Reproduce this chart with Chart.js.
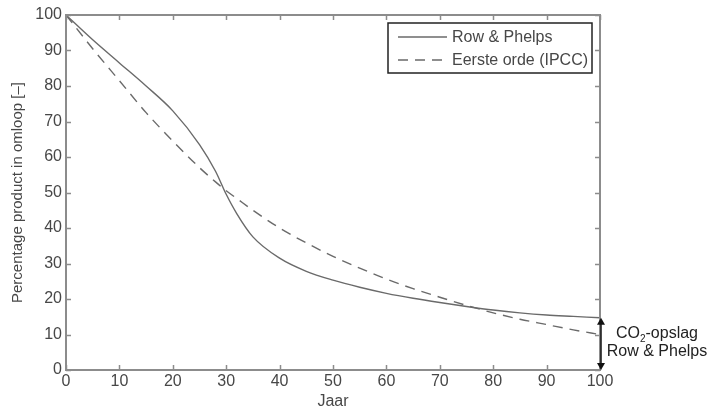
<!DOCTYPE html>
<html>
<head>
<meta charset="utf-8">
<script src="https://cdn.jsdelivr.net/npm/chart.js@4.4.1/dist/chart.umd.min.js"></script>
<style>
  html, body { margin: 0; padding: 0; background: #fff; }
  #wrap { width: 707px; height: 411px; position: relative; }
</style>
</head>
<body>
<div id="wrap"><canvas id="chart" width="707" height="411"></canvas></div>
<script>
const years = [0, 5, 10, 15, 20, 25, 28, 30, 32, 35, 40, 45, 50, 55, 60, 65, 70, 75, 80, 85, 90, 95, 100];
const rowPhelps = [100, 93, 86.5, 80, 73, 63.5, 56, 49.5, 44, 37.5, 31.5, 27.8, 25.3, 23.3, 21.6, 20.2, 19, 17.9, 16.9, 16.1, 15.5, 15.1, 14.7];
const eersteOrde = [100, 90.5, 81.5, 72.5, 64.5, 57, 53, 50.5, 48.3, 45, 40, 35.8, 32, 28.7, 25.6, 22.9, 20.5, 18.2, 16.1, 14.3, 12.8, 11.3, 10];
const xTicks = [0, 10, 20, 30, 40, 50, 60, 70, 80, 90, 100];
const yTicks = [0, 10, 20, 30, 40, 50, 60, 70, 80, 90, 100];
const seriesNames = ['Row & Phelps', 'Eerste orde (IPCC)'];
const annotationLines = ['CO', '-opslag', 'Row & Phelps'];

const FONT = '"Liberation Sans", Arial, sans-serif';
const LINE = '#6a6a6a';
const AXIS = '#8c8c8c';
const TEXT = '#474747';

const framePlugin = {
  id: 'frame',
  afterDatasetsDraw(chart) {
    const { ctx, chartArea: a, scales } = chart;
    const x = scales.x, y = scales.y;
    ctx.save();
    // box
    ctx.strokeStyle = AXIS;
    ctx.lineWidth = 2;
    ctx.strokeRect(a.left, a.top, a.right - a.left, a.bottom - a.top);
    // inward ticks on all four sides
    ctx.lineWidth = 1.5;
    ctx.beginPath();
    xTicks.forEach((v) => {
      const px = Math.round(x.getPixelForValue(v)) + 0.5;
      ctx.moveTo(px, a.bottom); ctx.lineTo(px, a.bottom - 5);
      ctx.moveTo(px, a.top); ctx.lineTo(px, a.top + 5);
    });
    yTicks.forEach((v) => {
      const py = Math.round(y.getPixelForValue(v)) + 0.5;
      ctx.moveTo(a.left, py); ctx.lineTo(a.left + 5, py);
      ctx.moveTo(a.right, py); ctx.lineTo(a.right - 5, py);
    });
    ctx.stroke();

    // legend box
    const lx = 388, ly = 23, lw = 204, lh = 50;
    ctx.fillStyle = '#fff';
    ctx.fillRect(lx, ly, lw, lh);
    ctx.strokeStyle = '#222';
    ctx.lineWidth = 1.5;
    ctx.strokeRect(lx, ly, lw, lh);
    chart.data.datasets.forEach((ds, i) => {
      const yy = ly + 14 + i * 23;
      ctx.strokeStyle = ds.borderColor;
      ctx.lineWidth = ds.borderWidth;
      ctx.setLineDash(ds.borderDash || []);
      ctx.beginPath();
      ctx.moveTo(lx + 10, yy); ctx.lineTo(lx + 59, yy);
      ctx.stroke();
      ctx.setLineDash([]);
      ctx.fillStyle = TEXT;
      ctx.font = '16px ' + FONT;
      ctx.textBaseline = 'middle';
      ctx.textAlign = 'left';
      ctx.fillText(ds.label, lx + 64, yy + 1);
    });

    // double arrow at x = 100 from Row & Phelps end value to 0
    const ax = x.getPixelForValue(100) + 1;
    const yTop = y.getPixelForValue(rowPhelps[rowPhelps.length - 1]);
    const yBot = y.getPixelForValue(0);
    ctx.strokeStyle = '#111';
    ctx.fillStyle = '#111';
    ctx.lineWidth = 1.5;
    ctx.beginPath();
    ctx.moveTo(ax, yTop + 5); ctx.lineTo(ax, yBot - 5);
    ctx.stroke();
    ctx.beginPath();
    ctx.moveTo(ax, yTop); ctx.lineTo(ax - 4, yTop + 7); ctx.lineTo(ax + 4, yTop + 7); ctx.closePath();
    ctx.fill();
    ctx.beginPath();
    ctx.moveTo(ax, yBot); ctx.lineTo(ax - 4, yBot - 7); ctx.lineTo(ax + 4, yBot - 7); ctx.closePath();
    ctx.fill();

    // annotation text
    const cx = 657;
    ctx.fillStyle = '#222';
    ctx.textBaseline = 'alphabetic';
    ctx.font = '16px ' + FONT;
    const w1 = ctx.measureText(annotationLines[0]).width;
    ctx.font = '10px ' + FONT;
    const ws = ctx.measureText('2').width;
    ctx.font = '16px ' + FONT;
    const w2 = ctx.measureText(annotationLines[1]).width;
    const sx = cx - (w1 + ws + w2) / 2;
    ctx.textAlign = 'left';
    ctx.fillText(annotationLines[0], sx, 338);
    ctx.font = '10px ' + FONT;
    ctx.fillText('2', sx + w1, 342);
    ctx.font = '16px ' + FONT;
    ctx.fillText(annotationLines[1], sx + w1 + ws, 338);
    ctx.textAlign = 'center';
    ctx.fillText(annotationLines[2], cx, 356);
    ctx.restore();
  }
};

new Chart(document.getElementById('chart'), {
  type: 'line',
  data: {
    datasets: [
      {
        label: seriesNames[0],
        data: years.map((v, i) => ({ x: v, y: rowPhelps[i] })),
        borderColor: LINE,
        borderWidth: 1.4,
        pointRadius: 0,
        cubicInterpolationMode: 'monotone',
        fill: false
      },
      {
        label: seriesNames[1],
        data: years.map((v, i) => ({ x: v, y: eersteOrde[i] })),
        borderColor: LINE,
        borderWidth: 1.4,
        borderDash: [10, 7],
        pointRadius: 0,
        cubicInterpolationMode: 'monotone',
        fill: false
      }
    ]
  },
  options: {
    responsive: false,
    animation: false,
    devicePixelRatio: 1,
    layout: { padding: { left: 0, right: 107, top: 15, bottom: 0 } },
    plugins: { legend: { display: false }, tooltip: { enabled: false } },
    scales: {
      x: {
        type: 'linear',
        min: 0,
        max: 100,
        afterBuildTicks: (s) => { s.ticks = xTicks.map((v) => ({ value: v })); },
        afterFit: (s) => { s.height = 41; },
        grid: { display: false, drawTicks: false },
        border: { display: false },
        ticks: { color: TEXT, font: { family: FONT, size: 16 }, padding: 2, maxRotation: 0 },
        title: { display: true, text: 'Jaar', color: TEXT, font: { family: FONT, size: 16 }, padding: { top: 0, bottom: 0 } }
      },
      y: {
        type: 'linear',
        min: 0,
        max: 100,
        afterBuildTicks: (s) => { s.ticks = yTicks.map((v) => ({ value: v })); },
        afterFit: (s) => { s.width = 66; },
        grid: { display: false, drawTicks: false },
        border: { display: false },
        ticks: { color: TEXT, font: { family: FONT, size: 16 }, padding: 4 },
        title: { display: true, text: 'Percentage product in omloop [\u2013]', color: TEXT, font: { family: FONT, size: 15 }, padding: { top: 9, bottom: 0 } }
      }
    }
  },
  plugins: [framePlugin]
});
</script>
</body>
</html>
